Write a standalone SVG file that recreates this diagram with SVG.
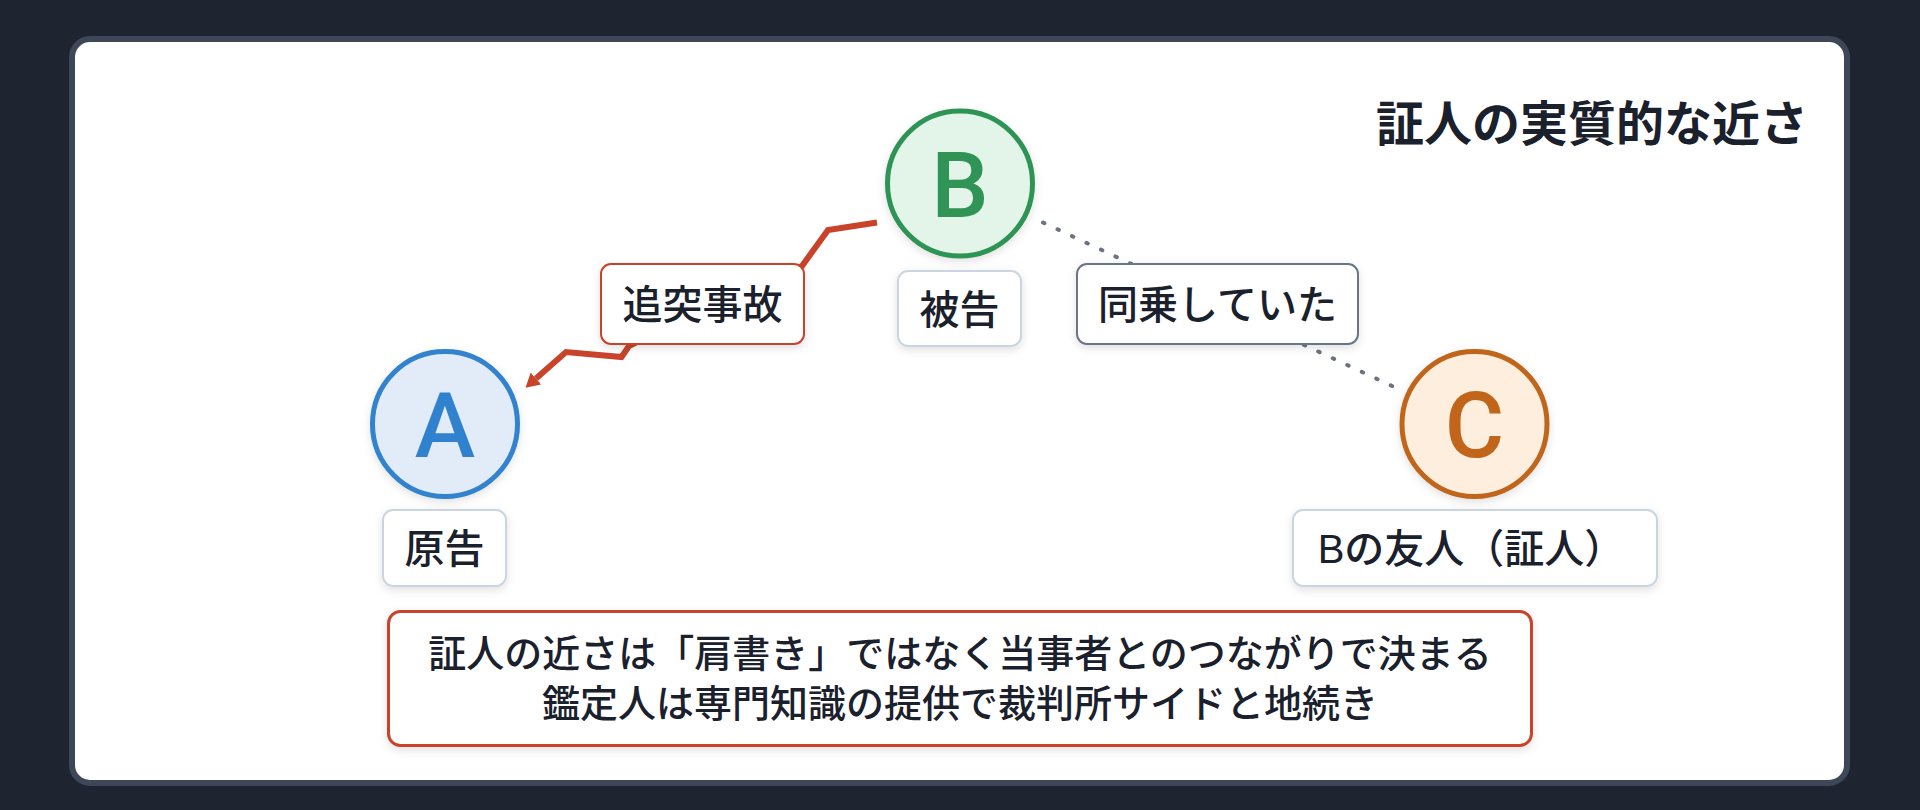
<svg xmlns="http://www.w3.org/2000/svg" width="1920" height="810" viewBox="0 0 1920 810">
  <style>
    .t { font-family: "Liberation Sans", "Noto Sans CJK JP", sans-serif; fill: #1a202c; }
    .lbl { font-size: 40px; font-weight: 500; text-anchor: middle; }
    .note { font-size: 38px; font-weight: 500; text-anchor: middle; }
    .title { font-size: 48px; font-weight: 700; text-anchor: end; }
    .letter { font-family: Roboto, "Liberation Sans", sans-serif; font-size: 91px; font-weight: 500; text-anchor: middle; }
    .box { fill: #ffffff; stroke: #cbd5e0; stroke-width: 2; }
    .box-red { fill: #ffffff; stroke: #c9432b; stroke-width: 2; }
    .box-gray { fill: #ffffff; stroke: #6b7585; stroke-width: 2; }
    .circle { stroke-width: 5; }
  </style>
  <defs>
    <filter id="sh" x="-20%" y="-20%" width="140%" height="150%">
      <feDropShadow dx="0" dy="3" stdDeviation="4" flood-color="#000000" flood-opacity="0.12"/>
    </filter>
    <marker id="arrowRed" markerUnits="userSpaceOnUse" markerWidth="15" markerHeight="17" refX="0" refY="8" orient="auto">
      <path d="M0,0 L14,8 L0,16 Z" fill="#c9432b"/>
    </marker>
  </defs>

  <rect x="0" y="0" width="1920" height="810" fill="#1e2430"/>
  <rect id="card" x="72" y="39" width="1775" height="744" rx="18" ry="18" fill="#ffffff" stroke="#3d4758" stroke-width="6"/>

  <text class="t title" x="1808" y="141">証人の実質的な近さ</text>

  <g id="connectors">
    <path id="edge-B-A" d="M877,222.5 L828,230 L802,266 L720,300 L629,346 L621.5,357 L566,352 L536,378.5" fill="none" stroke="#c9432b" stroke-width="6" stroke-linejoin="miter" marker-end="url(#arrowRed)"/>
    <path id="edge-B-C" d="M1043,222.5 L1393.5,386.7" fill="none" stroke="#6b7280" stroke-width="4" stroke-linecap="round" stroke-dasharray="1.5 14.5"/>
  </g>

  <g id="label-accident">
    <rect class="box-red" x="601" y="264" width="203" height="80" rx="10" filter="url(#sh)"/>
    <text class="t lbl" x="702.5" y="319">追突事故</text>
  </g>

  <g id="label-ride">
    <rect class="box-gray" x="1077" y="264" width="281" height="80" rx="10" filter="url(#sh)"/>
    <text class="t lbl" x="1217.5" y="319">同乗していた</text>
  </g>

  <g id="node-B">
    <circle class="circle" cx="960" cy="183.5" r="72.5" fill="#e3f5e8" stroke="#2f9455" filter="url(#sh)"/>
    <text class="letter" x="960" y="216.5" fill="#2f9455">B</text>
    <rect class="box" x="898" y="271" width="123" height="75" rx="10" filter="url(#sh)"/>
    <text class="t lbl" x="959.5" y="323.5">被告</text>
  </g>

  <g id="node-A">
    <circle class="circle" cx="445" cy="424" r="72.5" fill="#e2ecf8" stroke="#3182ce" filter="url(#sh)"/>
    <text class="letter" x="445" y="457" fill="#3182ce">A</text>
    <rect class="box" x="383" y="510" width="123" height="76" rx="10" filter="url(#sh)"/>
    <text class="t lbl" x="444.5" y="563">原告</text>
  </g>

  <g id="node-C">
    <circle class="circle" cx="1474.5" cy="424" r="72.5" fill="#fdeedd" stroke="#c0651a" filter="url(#sh)"/>
    <text class="letter" x="1474.5" y="457" fill="#c0651a">C</text>
    <rect class="box" x="1293" y="510" width="364" height="76" rx="10" filter="url(#sh)"/>
    <text class="t lbl" x="1471" y="563">Bの友人（証人）</text>
  </g>

  <g id="note">
    <rect x="388.5" y="611.5" width="1143" height="134" rx="12" fill="#ffffff" stroke="#c9432b" stroke-width="3" filter="url(#sh)"/>
    <text class="t note" x="960" y="667">証人の近さは「肩書き」ではなく当事者とのつながりで決まる</text>
    <text class="t note" x="960" y="717">鑑定人は専門知識の提供で裁判所サイドと地続き</text>
  </g>
</svg>
